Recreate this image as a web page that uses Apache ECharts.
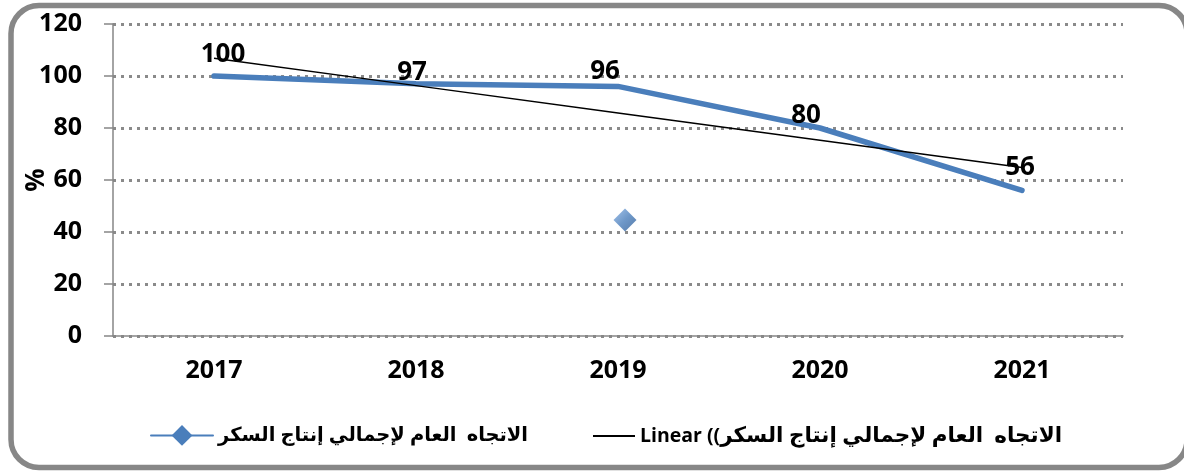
<!DOCTYPE html>
<html>
<head>
<meta charset="utf-8">
<script src="https://cdn.jsdelivr.net/npm/echarts@6/dist/echarts.min.js"></script>
<style>
html,body{margin:0;padding:0;background:#fff;}
#chart{width:1184px;height:472px;}
</style>
</head>
<body>
<div id="chart"></div>
<script>
// ---- data ----
var years = ['2017', '2018', '2019', '2020', '2021'];
var production = [100, 97, 96, 80, 56];
var trendLinear = [106.8, 96.3, 85.8, 75.3, 64.8];
var strayMarker = [null, null, 45, null, null];
var yTicks = [0, 20, 40, 60, 80, 100, 120];
var seriesName = 'الاتجاه  العام لإجمالي إنتاج السكر';
var trendPrefix = 'Linear ((';
var trendName = 'trend';

// ---- styling (not data) ----
var labelOffsets = [[9, -3], [-4, 7], [-13, 3], [-14, 6], [-2, -5]];
var FONT = '"Open Sans", "DejaVu Sans", sans-serif';
var BLUE = '#4a7ebb';

var chart = echarts.init(document.getElementById('chart'), null, {renderer: 'canvas'});

var prodData = production.map(function (v, i) {
  return {value: v, label: {offset: labelOffsets[i]}};
});

var option = {
  backgroundColor: '#ffffff',
  animation: false,
  textStyle: {fontFamily: FONT},
  graphic: [{
    type: 'rect',
    shape: {x: 11, y: 5.5, width: 1176, height: 462, r: 28},
    style: {fill: 'none', stroke: '#878787', lineWidth: 5.5},
    silent: true, z: 100
  }, {
    type: 'text',
    x: 37, y: 180,
    rotation: Math.PI / 2,
    style: {
      text: '%', align: 'center', verticalAlign: 'middle',
      font: 'bold 26px "Open Sans", sans-serif', fill: '#000'
    },
    silent: true
  }],
  grid: {left: 113, right: 61, top: 24, bottom: 136, containLabel: false, outerBoundsMode: 'none'},
  legend: [{
    left: 145, top: 420,
    itemWidth: 62, itemHeight: 26, itemGap: 3,
    data: [{name: seriesName}],
    textStyle: {fontFamily: FONT, fontWeight: 'bold', fontSize: 19.5, color: '#000'}
  }, {
    left: 588, top: 420,
    itemWidth: 42, itemHeight: 2, itemGap: 4,
    data: [{name: trendName, icon: 'rect'}],
    formatter: function () {
      return '{a|' + trendPrefix + '}{b|' + seriesName + '}';
    },
    textStyle: {
      fontFamily: FONT, fontWeight: 'bold', fontSize: 20, color: '#000',
      rich: {
        a: {fontFamily: FONT, fontWeight: 'bold', fontSize: 19.5, color: '#000'},
        b: {fontFamily: FONT, fontWeight: 'bold', fontSize: 21.5, color: '#000'}
      }
    }
  }],
  xAxis: {
    type: 'category',
    data: years,
    boundaryGap: true,
    axisLine: {show: true, lineStyle: {color: '#868686', width: 1.5}},
    axisTick: {show: false},
    axisLabel: {fontFamily: FONT, fontWeight: 'bold', fontSize: 25, color: '#000', margin: 22}
  },
  yAxis: {
    type: 'value',
    min: yTicks[0], max: yTicks[yTicks.length - 1], interval: 20,
    axisLine: {show: true, lineStyle: {color: '#868686', width: 1.5}},
    axisTick: {show: true, length: 9, lineStyle: {color: '#868686', width: 1.5}},
    axisLabel: {fontFamily: FONT, fontWeight: 'bold', fontSize: 25, color: '#000', margin: 31},
    splitLine: {show: true, lineStyle: {color: '#8a8a8a', width: 3, type: [3, 5]}}
  },
  series: [{
    name: seriesName,
    type: 'line',
    data: prodData,
    symbol: 'diamond',
    symbolSize: 0.01,
    showSymbol: true,
    color: BLUE,
    lineStyle: {color: BLUE, width: 5.5, cap: 'round'},
    itemStyle: {color: BLUE},
    label: {
      show: true, position: 'top', distance: 5,
      fontFamily: FONT, fontWeight: 'bold', fontSize: 26, color: '#000'
    },
    z: 2
  }, {
    name: trendName,
    type: 'line',
    data: trendLinear,
    symbol: 'none',
    color: '#000',
    lineStyle: {color: '#000', width: 1.5},
    itemStyle: {color: '#000'},
    z: 3
  }, {
    name: 'marker',
    type: 'scatter',
    data: strayMarker,
    symbol: 'diamond',
    symbolSize: 23,
    symbolOffset: [7, 1],
    itemStyle: {
      color: new echarts.graphic.LinearGradient(0, 0, 1, 1, [
        {offset: 0, color: '#8db5e6'},
        {offset: 0.5, color: '#4a7ebb'},
        {offset: 1, color: '#2c5a94'}
      ])
    },
    z: 4
  }]
};
chart.setOption(option);
</script>
</body>
</html>
